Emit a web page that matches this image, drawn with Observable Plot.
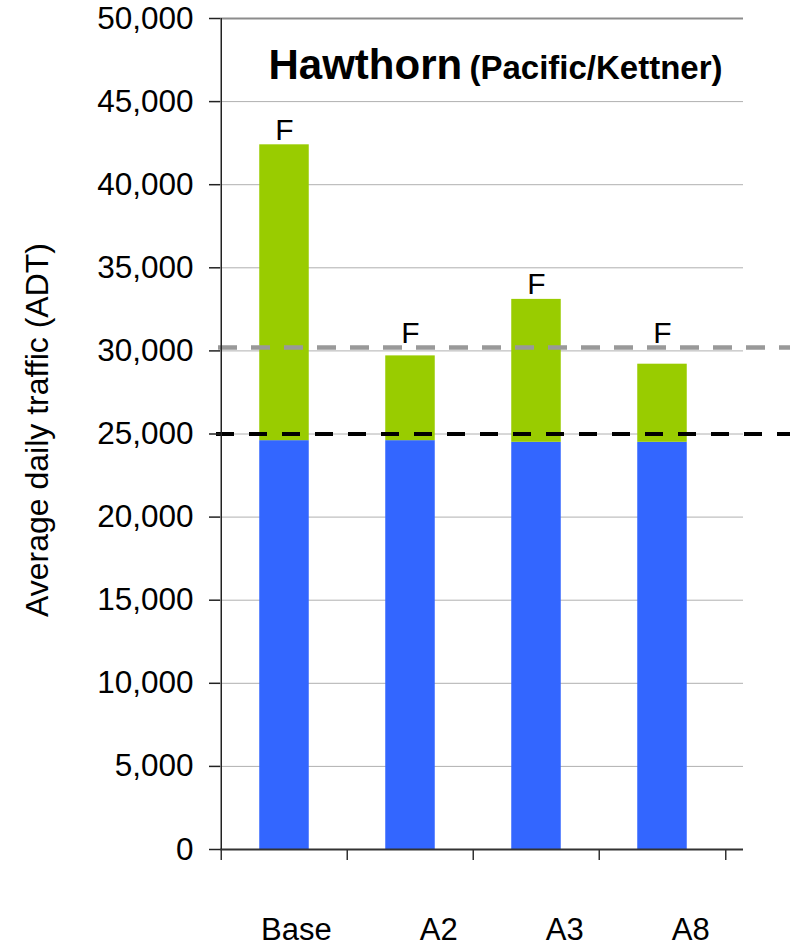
<!DOCTYPE html>
<html>
<head>
<meta charset="utf-8">
<script src="https://cdn.jsdelivr.net/npm/d3@7"></script>
<script src="https://cdn.jsdelivr.net/npm/@observablehq/plot@0.6"></script>
<style>
  html, body { margin: 0; padding: 0; background: #fff; }
  #chart svg { display: block; }
</style>
</head>
<body>
<div id="chart"></div>
<script>
// Scenarios along the x axis
const scenarios = ["Base", "A2", "A3", "A8"];
// Lower (blue) segment of each bar, ADT
const baseVolume = [24600, 24600, 24500, 24500];
// Bar totals (top of the green segment), ADT
const totalVolume = [42400, 29700, 33100, 29200];
// Level-of-service letter shown over each bar
const losLabels = ["F", "F", "F", "F"];
// Reference thresholds drawn as dashed lines
const upperThreshold = 30200; // gray dashed
const lowerThreshold = 25000; // black dashed
// Y axis ticks
const yTicks = [0, 5000, 10000, 15000, 20000, 25000, 30000, 35000, 40000, 45000, 50000];

const titleMain = "Hawthorn";
const titleSub = "(Pacific/Kettner)";
const yLabel = "Average daily traffic (ADT)";

const blue = "#3366ff";
const green = "#99cc00";

const rows = scenarios.map((s, i) => ({
  scenario: s,
  base: baseVolume[i],
  total: totalVolume[i],
  los: losLabels[i]
}));

const xRange = [220, 726];
const bw = (xRange[1] - xRange[0]) / scenarios.length;
const barInset = (bw - 50) / 2;

const chart = Plot.plot({
  width: 790,
  height: 945,
  marginLeft: 220,
  marginRight: 47,
  marginTop: 18,
  marginBottom: 96,
  style: {fontFamily: "'Liberation Sans', Arial, sans-serif", fontSize: "31px", color: "#000", background: "#fff"},
  x: {type: "band", domain: scenarios, range: xRange, padding: 0, axis: null},
  y: {domain: [0, 50000], axis: null},
  marks: [
    // horizontal gridlines
    Plot.ruleY(yTicks.filter(t => t > 0 && t < 50000), {stroke: "#b0b0b0", strokeWidth: 1}),
    Plot.ruleY([50000], {stroke: "#8c8c8c", strokeWidth: 2}),
    // stacked bars
    Plot.rectY(rows, {x: "scenario", y1: 0, y2: "base", fill: blue, insetLeft: barInset, insetRight: barInset}),
    Plot.rectY(rows, {x: "scenario", y1: "base", y2: "total", fill: green, insetLeft: barInset, insetRight: barInset}),
    // threshold lines
    Plot.ruleY([upperThreshold], {stroke: "#999999", strokeWidth: 4.5, strokeDasharray: "19,14", insetLeft: -2, insetRight: -47}),
    Plot.ruleY([lowerThreshold], {stroke: "#000", strokeWidth: 4, strokeDasharray: "18,15", insetLeft: -4, insetRight: -47}),
    // LOS letters, kept above the gray threshold line
    Plot.text(rows, {x: "scenario", y: d => Math.max(d.total, upperThreshold), text: "los", lineAnchor: "bottom", dy: -5, fontSize: 30}),
    // baseline
    Plot.ruleY([0], {stroke: "#333", strokeWidth: 2}),
    // y axis line along the left edge of the first category
    Plot.ruleX(scenarios.slice(0, 1), {x: d => d, y1: 0, y2: 50000, dx: -bw / 2, stroke: "#222", strokeWidth: 1.5}),
    // x tick marks between categories
    Plot.ruleX(scenarios, {x: d => d, y1: 0, y2: 0, insetBottom: -11, dx: -bw / 2, stroke: "#333", strokeWidth: 1.5}),
    Plot.ruleX(scenarios.slice(-1), {x: d => d, y1: 0, y2: 0, insetBottom: -11, dx: bw / 2, stroke: "#333", strokeWidth: 1.5}),
    // category labels
    Plot.text(scenarios, {x: d => d, text: d => d, frameAnchor: "bottom", textAnchor: "end", lineAnchor: "bottom", dx: bw / 2 - 16, dy: 90, fontSize: 31}),
    // y axis ticks and labels
    Plot.axisY({ticks: yTicks, tickFormat: d3.format(","), tickSize: 11, tickPadding: 16, label: null, stroke: "#222", strokeWidth: 1.5, fontSize: 31.5}),
    Plot.text([yLabel], {text: d => d, frameAnchor: "left", textAnchor: "middle", rotate: -90, dx: -173, dy: -4, lineAnchor: "bottom", fontSize: 32}),
    // title
    Plot.text([titleMain], {text: d => d, frameAnchor: "top-left", textAnchor: "start", lineAnchor: "bottom", dx: 48, dy: 60, fontSize: 42, fontWeight: "bold"}),
    Plot.text([titleSub], {text: d => d, frameAnchor: "top-right", textAnchor: "end", lineAnchor: "bottom", dx: -21, dy: 60, fontSize: 33, fontWeight: "bold"})
  ]
});

document.getElementById("chart").appendChild(chart);
</script>
</body>
</html>
